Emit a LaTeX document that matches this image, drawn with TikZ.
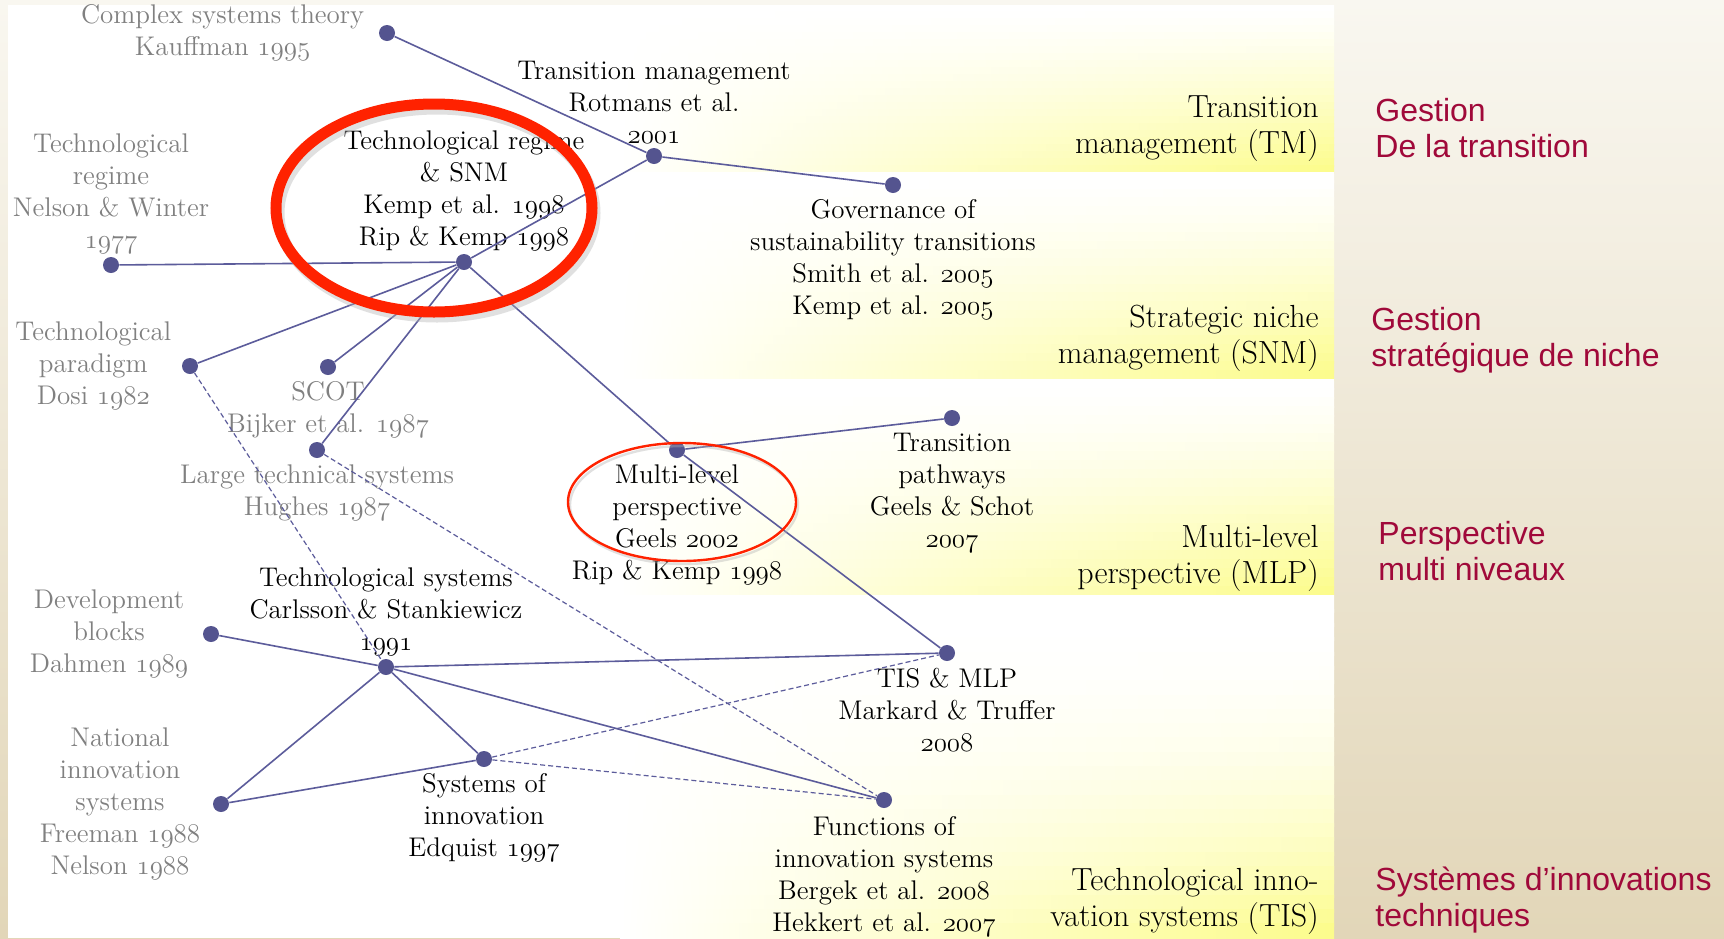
\documentclass[tikz,border=0pt]{standalone}
\usepackage{fix-cm}
\usepackage{fontspec}
\newfontfamily\frfont{Liberation Sans}
\usepackage{tikz}
\usetikzlibrary{positioning}
\definecolor{nodeblue}{RGB}{84,84,143}
\definecolor{edgeblue}{RGB}{92,92,155}
\definecolor{redring}{RGB}{255,34,0}
\definecolor{frred}{RGB}{160,9,58}
\definecolor{bgtop}{RGB}{249,247,240}
\definecolor{bgbot}{RGB}{226,214,184}
\definecolor{bandyellow}{RGB}{252,252,140}
\newcommand{\yr}[1]{{\usefont{OML}{cmm}{m}{it}#1}}
\tikzset{
	dot/.style={circle, fill=nodeblue, inner sep=0pt, minimum size=8pt},
	lbl/.style={align=center, inner sep=0pt, font=\fontsize{13.5}{16}\selectfont},
	glbl/.style={lbl, text=black!50},
	link/.style={draw=edgeblue, line width=0.8pt},
	dlink/.style={draw=edgeblue, line width=0.6pt, dash pattern=on 2.5pt off 1.5pt},
	bandlbl/.style={align=right, anchor=east, inner sep=0pt, font=\fontsize{16}{18}\selectfont},
	frlbl/.style={align=left, anchor=west, inner sep=0pt, text=frred, font=\frfont\fontsize{16}{18}\selectfont}
}

\begin{document}
\begin{tikzpicture}[x=0.5pt, y=-0.5pt]
		\useasboundingbox (0,0) rectangle (1724,938);
		\shade[top color=bgtop, bottom color=bgbot] (0,0) rectangle (1724,938);
		\fill[white] (8,5) rectangle (1334,938);
		\foreach \ya/\yb/\ex in {5/172/1.2, 172/379/1.3, 379/595/1.3, 595/938/2}{
			\foreach \i in {0,...,23}{
				\pgfmathtruncatemacro{\kk}{100*(\i/23)^\ex}
				\shade[left color=white, right color=bandyellow!\kk!white] (620,{\ya+\i*(\yb-\ya)/24}) rectangle (1334,{\ya+(\i+1.2)*(\yb-\ya)/24});
			}
		}

		\node[bandlbl] (tm-b) at (1319,129) {Transition\\management (TM)};
		\node[bandlbl] (snm-b) at (1319,338) {Strategic niche\\management (SNM)};
		\node[bandlbl] (mlp-b) at (1319,558) {Multi-level\\perspective (MLP)};
		\node[bandlbl] (tis-b) at (1319,901) {Technological inno-\\vation systems (TIS)};

		\node[frlbl] (tm-f) at (1375,128) {Gestion\\De la transition};
		\node[frlbl] (snm-f) at (1371,340) {Gestion\\stratégique de niche};
		\node[frlbl] (mlp-f) at (1378,551) {Perspective\\multi niveaux};
		\node[frlbl] (tis-f) at (1375,900) {Systèmes d’innovations\\techniques};

		\node[dot] (cst) at (387,33) {};
		\node[dot] (tm) at (654,156) {};
		\node[dot] (gov) at (893,185) {};
		\node[dot] (tr) at (464,262) {};
		\node[dot] (nw) at (111,265) {};
		\node[dot] (tp) at (190,366) {};
		\node[dot] (scot) at (328,367) {};
		\node[dot] (lts) at (317,450) {};
		\node[dot] (mlp) at (677,450) {};
		\node[dot] (tpw) at (952,418) {};
		\node[dot] (db) at (211,634) {};
		\node[dot] (ts) at (386,667) {};
		\node[dot] (tism) at (947,653) {};
		\node[dot] (nis) at (221,804) {};
		\node[dot] (si) at (484,759) {};
		\node[dot] (fis) at (884,800) {};

		\node[glbl, left=7pt of cst] (cst-l) {Complex systems theory\\Kauffman \yr{1995}};
		\node[lbl, above=2pt of tm] (tm-l) {Transition management\\Rotmans et al.\\\yr{2001}};
		\node[lbl, below=3pt of gov] (gov-l) {Governance of\\sustainability transitions\\Smith et al. \yr{2005}\\Kemp et al. \yr{2005}};
		\node[lbl, above=1pt of tr] (tr-l) {Technological regime\\\& SNM\\Kemp et al. \yr{1998}\\Rip \& Kemp \yr{1998}};
		\node[glbl, above=1pt of nw] (nw-l) {Technological\\regime\\Nelson \& Winter\\\yr{1977}};
		\node[glbl, left=5pt of tp] (tp-l) {Technological\\paradigm\\Dosi \yr{1982}};
		\node[glbl, below=3pt of scot] (scot-l) {SCOT\\Bijker et al. \yr{1987}};
		\node[glbl, below=3pt of lts] (lts-l) {Large technical systems\\Hughes \yr{1987}};
		\node[lbl, below=3pt of mlp] (mlp-l) {Multi-level\\perspective\\Geels \yr{2002}\\Rip \& Kemp \yr{1998}};
		\node[lbl, below=3pt of tpw] (tpw-l) {Transition\\pathways\\Geels \& Schot\\\yr{2007}};
		\node[lbl, above=1pt of ts] (ts-l) {Technological systems\\Carlsson \& Stankiewicz\\\yr{1991}};
		\node[glbl, left=7pt of db] (db-l) {Development\\blocks\\Dahmen \yr{1989}};
		\node[lbl, below=3pt of tism] (tism-l) {TIS \& MLP\\Markard \& Truffer\\\yr{2008}};
		\node[glbl, left=6pt of nis] (nis-l) {National\\innovation\\systems\\Freeman \yr{1988}\\Nelson \yr{1988}};
		\node[lbl, below=3pt of si] (si-l) {Systems of\\innovation\\Edquist \yr{1997}};
		\node[lbl, below=4pt of fis] (fis-l) {Functions of\\innovation systems\\Bergek et al. \yr{2008}\\Hekkert et al. \yr{2007}};

		\draw[link] (cst) -- (tm);
		\draw[link] (tm) -- (gov);
		\draw[link] (tm) -- (tr);
		\draw[link] (tr) -- (nw);
		\draw[link] (tr) -- (tp);
		\draw[link] (tr) -- (scot);
		\draw[link] (tr) -- (lts);
		\draw[link] (tr) -- (mlp);
		\draw[link] (mlp) -- (tpw);
		\draw[link] (mlp) -- (tism);
		\draw[link] (ts) -- (db);
		\draw[link] (ts) -- (tism);
		\draw[link] (ts) -- (nis);
		\draw[link] (ts) -- (si);
		\draw[link] (ts) -- (fis);
		\draw[link] (nis) -- (si);
		\draw[dlink] (tp) -- (ts);
		\draw[dlink] (lts) -- (fis);
		\draw[dlink] (si) -- (tism);
		\draw[dlink] (si) -- (fis);

		\draw[black!30, opacity=0.4, line width=5.5pt] (437,213) ellipse [x radius=158, y radius=104];
		\draw[redring, line width=5.5pt] (434,208) ellipse [x radius=158, y radius=104];
		\draw[black!30, opacity=0.4, line width=1.2pt] (684,505) ellipse [x radius=114, y radius=59];
		\draw[redring, line width=1.2pt] (682,502) ellipse [x radius=114, y radius=59];
	\end{tikzpicture}
\end{document}
